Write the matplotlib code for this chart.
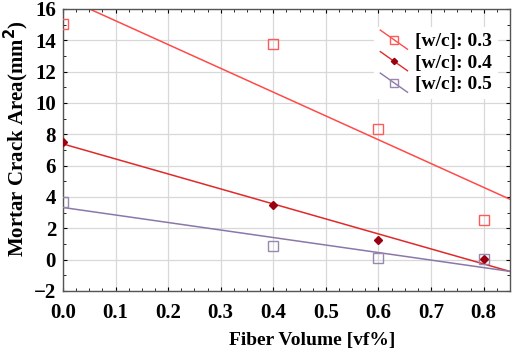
import numpy as np
import matplotlib
matplotlib.use("Agg")
import matplotlib.pyplot as plt
from matplotlib.legend_handler import HandlerLine2D
from matplotlib.lines import Line2D
from matplotlib.ticker import MultipleLocator

fiber_volume = [0.0, 0.4, 0.6, 0.8]
area_wc03 = [15.05, 13.75, 8.35, 2.55]
area_wc04 = [7.5, 3.5, 1.27, 0.03]
area_wc05 = [3.7, 0.85, 0.08, 0.05]
labels = ['[w/c]: 0.3', '[w/c]: 0.4', '[w/c]: 0.5']


class DiagonalHandler(HandlerLine2D):
    # legend key drawn as a short slanted line with the marker in the middle
    def create_artists(self, legend, orig_handle, xdescent, ydescent, width, height, fontsize, trans):
        line = Line2D([0, width], [height + 2, -2], color=orig_handle.get_color(), lw=1)
        mark = Line2D([width / 2], [height / 2], marker=orig_handle.get_marker(), ls='none',
                      markersize=orig_handle.get_markersize() * 0.8,
                      markerfacecolor=orig_handle.get_markerfacecolor(),
                      markeredgecolor=orig_handle.get_markeredgecolor())
        line.set_transform(trans)
        mark.set_transform(trans)
        return [line, mark]


plt.rcParams['font.family'] = 'Liberation Serif'
plt.rcParams['font.weight'] = 'bold'

fig = plt.figure(figsize=(5.12, 3.54), dpi=100)
ax = fig.add_axes([0.123, 0.178, 0.873, 0.797])

styles = [
    (area_wc03, '#ff4a4a', 's', 'none', '#ff5a5a', 6.5),
    (area_wc04, '#e02a2a', 'D', '#9a0010', '#9a0010', 4.0),
    (area_wc05, '#8a78a8', 's', 'none', '#9888b0', 6.5),
]
xfit = np.linspace(0, 0.85, 50)
handles = []
for (vals, lc, mk, mfc, mec, ms), lab in zip(styles, labels):
    coef = np.polyfit(fiber_volume, vals, 1)
    ax.plot(xfit, np.polyval(coef, xfit), color=lc, lw=1.1, zorder=2)
    ax.plot(fiber_volume, vals, ls='none', marker=mk, markersize=ms, markerfacecolor=mfc,
            markeredgecolor=mec, markeredgewidth=1.0, zorder=3)
    handles.append(Line2D([], [], color=lc, marker=mk, markersize=ms, markerfacecolor=mfc,
                          markeredgecolor=mec, label=lab))

ax.set_xlim(0, 0.85)
ax.set_ylim(-2, 16)
ax.xaxis.set_minor_locator(MultipleLocator(0.025))
ax.yaxis.set_major_locator(MultipleLocator(2))
ax.yaxis.set_minor_locator(MultipleLocator(1))
ax.set_xticks(np.arange(0, 0.81, 0.1))
ax.set_xticklabels([f'{v:.1f}' for v in np.arange(0, 0.81, 0.1)])
ax.tick_params(which='both', direction='in', top=True, right=True, labelsize=15)
ax.tick_params(which='major', length=3)
ax.tick_params(axis='x', which='major', pad=9)
ax.tick_params(axis='y', which='major', pad=5)
ax.tick_params(which='minor', length=2)
ax.grid(True, which='major', color='#d8d8d8', lw=0.9)
ax.set_axisbelow(True)
for s in ax.spines.values():
    s.set_color('#555555')
    s.set_linewidth(1.0)

ax.set_xlabel('Fiber Volume [vf%]', fontsize=14, fontweight='bold')
ax.xaxis.set_label_coords(0.557, -0.145)
ax.set_ylabel('Mortar Crack Area(mm$^\\mathbf{2}$)', fontsize=15, fontweight='bold')
ax.yaxis.set_label_coords(-0.072, 0.54)

leg = ax.legend(handles=handles, loc='upper right', bbox_to_anchor=(0.995, 0.97), fontsize=14,
                frameon=True, framealpha=1, edgecolor='none', handlelength=1.4, handletextpad=0.4,
                labelspacing=0.2, borderpad=0.3, handler_map={Line2D: DiagonalHandler()})

fig.savefig('out.png', dpi=100)
